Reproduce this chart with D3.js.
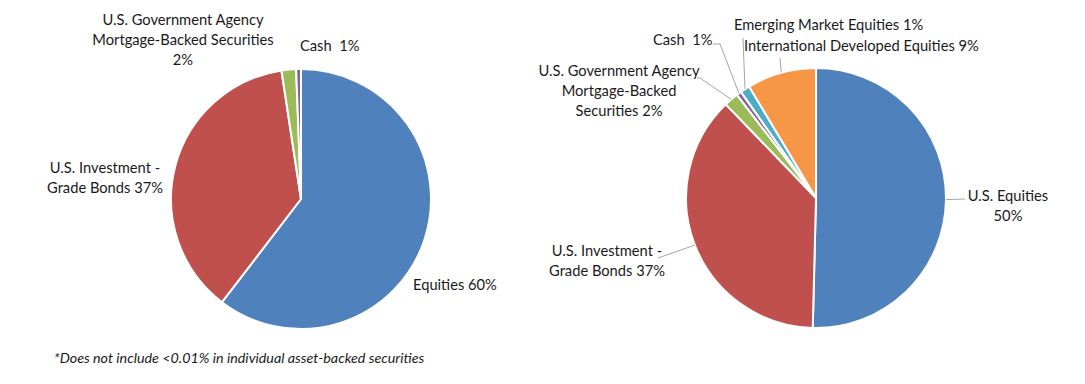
<!DOCTYPE html>
<html>
<head>
<meta charset="utf-8">
<script src="https://cdn.jsdelivr.net/npm/d3@7"></script>
<style>
  html, body { margin: 0; padding: 0; background: #fff; }
  svg { display: block; }
  text { font-family: Lato, "Open Sans", sans-serif; fill: #1a1a1a; white-space: pre; }
</style>
</head>
<body>
<svg id="chart" width="1085" height="384"></svg>
<script>
// ---- Data ----
const leftCategories = ["Equities", "U.S. Investment - Grade Bonds", "U.S. Government Agency Mortgage-Backed Securities", "Cash"];
const leftValues = [60.4, 37.2, 1.8, 0.6];
const leftLabels = [["Equities 60%"], ["U.S. Investment -", "Grade Bonds 37%"], ["U.S. Government Agency", "Mortgage-Backed Securities", "2%"], ["Cash  1%"]];

const rightCategories = ["U.S. Equities", "U.S. Investment - Grade Bonds", "U.S. Government Agency Mortgage-Backed Securities", "Cash", "Emerging Market Equities", "International Developed Equities"];
const rightValues = [50.4, 37.4, 1.8, 0.6, 1.2, 8.6];
const rightLabels = [["U.S. Equities", "50%"], ["U.S. Investment -", "Grade Bonds 37%"], ["U.S. Government Agency", "Mortgage-Backed", "Securities 2%"], ["Cash  1%"], ["Emerging Market Equities 1%"], ["International Developed Equities 9%"]];

const footnote = "*Does not include <0.01% in individual asset-backed securities";

// ---- Styles / layout ----
const leftColors = ["#4F81BD", "#C0504D", "#9BBB59", "#8064A2"];
const rightColors = ["#4F81BD", "#C0504D", "#9BBB59", "#8064A2", "#4BACC6", "#F79646"];

const leftLayout = [
  { x: 413, y: 285, anchor: "start" },
  { x: 105, y: 168, anchor: "middle" },
  { x: 183, y: 20, anchor: "middle" },
  { x: 300, y: 46, anchor: "start" }
];
const rightLayout = [
  { x: 1008, y: 196, anchor: "middle", leader: [[965, 199]] },
  { x: 607, y: 251, anchor: "middle", leader: [[658, 258]] },
  { x: 619, y: 71, anchor: "middle", leader: [[700, 78], [697, 78]] },
  { x: 653, y: 40, anchor: "start", leader: [[720, 44], [713, 44]] },
  { x: 734, y: 25, anchor: "start", leader: [[743, 38]] },
  { x: 744, y: 46, anchor: "start", leader: [[780, 58]] }
];

const lineH = 20;
const labelSize = 14.7;
const svg = d3.select("#chart");

function drawPie(cx, cy, r, values, colors, labels, layout) {
  const g = svg.append("g").attr("transform", `translate(${cx},${cy})`);
  const pie = d3.pie().sort(null).value(d => d);
  const arcs = pie(values);
  const arc = d3.arc().innerRadius(0).outerRadius(r);
  const edge = d3.arc().innerRadius(r).outerRadius(r);

  g.selectAll("path.slice").data(arcs).enter().append("path")
    .attr("class", "slice")
    .attr("d", arc)
    .attr("fill", (d, i) => colors[i])
    .attr("stroke", "#fff")
    .attr("stroke-width", 2)
    .attr("stroke-linejoin", "round");

  arcs.forEach((a, i) => {
    const L = layout[i];
    if (L.leader) {
      const p0 = edge.centroid(a);
      const pts = [[p0[0], p0[1]]].concat(L.leader.map(p => [p[0] - cx, p[1] - cy]));
      g.append("path")
        .attr("d", d3.line()(pts))
        .attr("fill", "none")
        .attr("stroke", "#a6a6a6")
        .attr("stroke-width", 1);
    }
    const t = svg.append("text")
      .attr("text-anchor", L.anchor)
      .attr("font-size", labelSize);
    labels[i].forEach((s, k) => {
      t.append("tspan")
        .attr("x", L.x)
        .attr("y", L.y + k * lineH)
        .attr("dy", "0.35em")
        .text(s);
    });
  });
}

drawPie(301, 199, 130, leftValues, leftColors, leftLabels, leftLayout);
drawPie(816, 198, 130, rightValues, rightColors, rightLabels, rightLayout);

svg.append("text")
  .attr("x", 54).attr("y", 358).attr("dy", "0.35em")
  .attr("font-size", 14.3)
  .attr("font-style", "italic")
  .text(footnote);
</script>
</body>
</html>
